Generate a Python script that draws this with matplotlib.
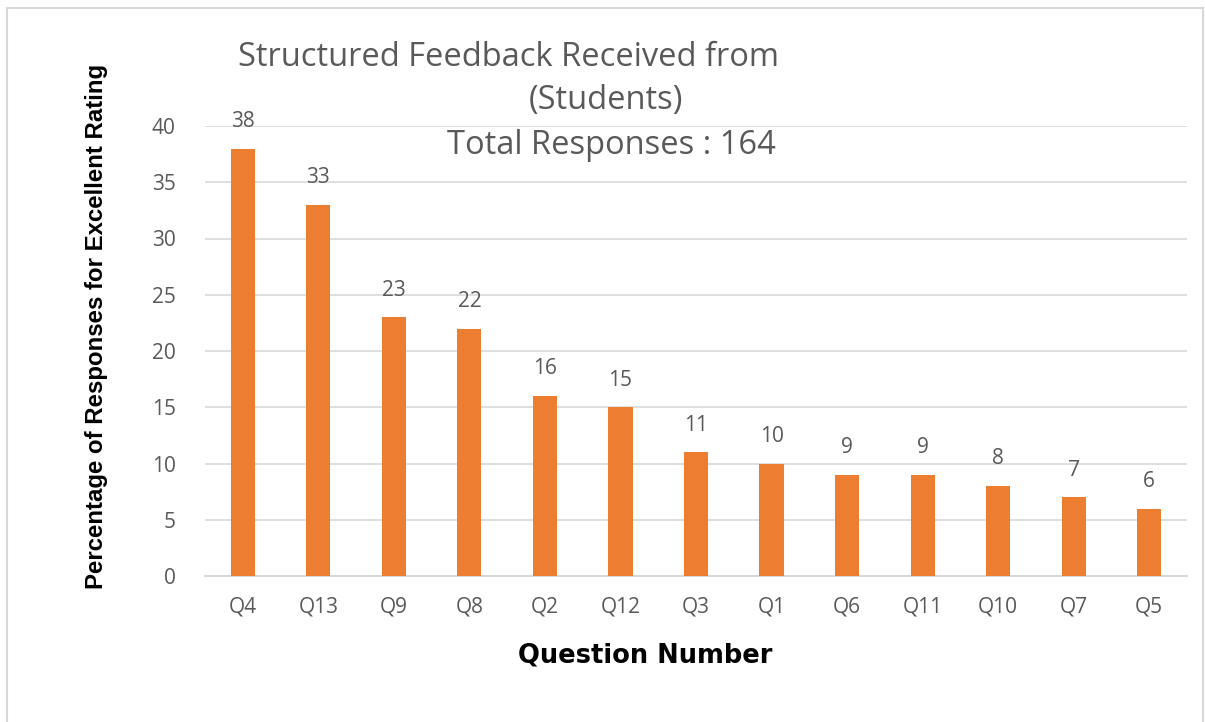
import matplotlib.pyplot as plt
from matplotlib.patches import Rectangle

# data
questions = ['Q4', 'Q13', 'Q9', 'Q8', 'Q2', 'Q12', 'Q3', 'Q1', 'Q6', 'Q11', 'Q10', 'Q7', 'Q5']
excellent_pct = [38, 33, 23, 22, 16, 15, 11, 10, 9, 9, 8, 7, 6]
y_ticks = [0, 5, 10, 15, 20, 25, 30, 35, 40]

BAR = '#ED7D31'
GREY = '#595959'
GRID = '#D9D9D9'

W, H = 1205, 722
fig = plt.figure(figsize=(W / 100, H / 100), dpi=100)

# chart-area border (light grey frame as in the exported image)
fig.patches.append(Rectangle((7 / W, -0.01), (1203 - 7) / W, 1 - 8 / H + 0.01,
                             transform=fig.transFigure, fill=False,
                             edgecolor='#D9D9D9', linewidth=1.5))

ax = fig.add_axes([205 / W, 1 - 576 / H, (1187 - 205) / W, (576 - 126) / H])
x = range(len(questions))
bars = ax.bar(x, excellent_pct, width=0.32, color=BAR, zorder=3)

ax.set_xlim(-0.5, len(questions) - 0.5)
ax.set_ylim(0, 40)
ax.set_yticks(y_ticks)
ax.set_xticks(list(x))
ax.set_xticklabels(questions)
ax.tick_params(axis='both', length=0, labelsize=15, labelcolor=GREY)
ax.tick_params(axis='x', pad=15)
ax.tick_params(axis='y', pad=21)
for lbl in ax.get_xticklabels() + ax.get_yticklabels():
    lbl.set_fontfamily('Open Sans')

ax.grid(axis='y', color=GRID, linewidth=1.2, zorder=0)
for s in ['top', 'right', 'left']:
    ax.spines[s].set_visible(False)
ax.spines['bottom'].set_color(GRID)
ax.spines['bottom'].set_linewidth(1.5)

for b, v in zip(bars, excellent_pct):
    ax.annotate(str(v), (b.get_x() + b.get_width() / 2, v), xytext=(0, 12),
                textcoords='offset points', ha='center', va='bottom',
                fontsize=15, color=GREY, family='Open Sans')

# title, laid out as in the original (three offset lines)
fig.text(238 / W, 1 - 57 / H, 'Structured Feedback Received from', ha='left', va='center',
         fontsize=23.5, color=GREY, family='Open Sans')
fig.text(606 / W, 1 - 101 / H, '(Students)', ha='center', va='center',
         fontsize=23.5, color=GREY, family='Open Sans')
fig.text(611 / W, 1 - 145 / H, 'Total Responses : 164', ha='center', va='center',
         fontsize=23.5, color=GREY, family='Open Sans')

fig.text(97 / W, 1 - 326 / H, 'Percentage of Responses for Excellent Rating', rotation=90,
         ha='center', va='center', fontsize=17.3, fontweight='bold', color='black',
         family=['Liberation Sans Narrow', 'Liberation Sans'])
fig.text(645 / W, 1 - 656 / H, 'Question Number', ha='center', va='center',
         fontsize=18.5, fontweight='bold', color='black', family='DejaVu Sans')

fig.savefig('out.png', dpi=100)
